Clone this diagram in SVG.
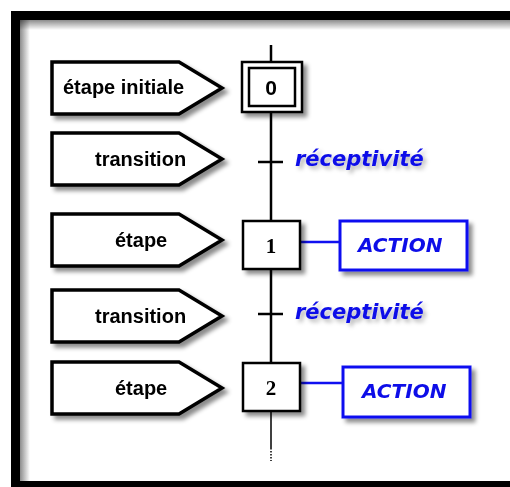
<svg xmlns="http://www.w3.org/2000/svg" width="510" height="487" viewBox="0 0 510 487">
<style>
.pent{fill:#fff;stroke:#000;stroke-width:3.5;stroke-linejoin:miter}
.lbl{font-family:"Liberation Sans",Arial,sans-serif;font-weight:bold;font-size:20px;fill:#000}
.step{fill:#fff;stroke:#000;stroke-width:2.5}
.num{font-family:"Liberation Serif","Times New Roman",serif;font-weight:bold;font-size:21px;fill:#000;text-anchor:middle}
.blue{font-family:"DejaVu Sans",Verdana,sans-serif;font-weight:bold;font-style:italic;fill:#1010e8}
.act{fill:#fff;stroke:#1010f0;stroke-width:3}
.link{stroke:#1010f0;stroke-width:2.5}
.axis{stroke:#000;stroke-width:2.5;fill:none}
</style>
<defs>
<filter id="sh" x="-10%" y="-10%" width="130%" height="140%">
<feDropShadow dx="4" dy="4" stdDeviation="2" flood-color="#000" flood-opacity="0.45"/>
</filter>
<filter id="tsh" x="-10%" y="-20%" width="130%" height="160%">
<feDropShadow dx="3" dy="3" stdDeviation="2" flood-color="#000" flood-opacity="0.3"/>
</filter>
<linearGradient id="gTop" x1="0" y1="0" x2="0" y2="1">
<stop offset="0" stop-color="#000" stop-opacity="0.45"/>
<stop offset="1" stop-color="#000" stop-opacity="0"/>
</linearGradient>
<linearGradient id="gLeft" x1="0" y1="0" x2="1" y2="0">
<stop offset="0" stop-color="#000" stop-opacity="0.45"/>
<stop offset="1" stop-color="#000" stop-opacity="0"/>
</linearGradient>
</defs>
<rect x="0" y="0" width="510" height="487" fill="#fff"/>
<g id="frame">
<rect x="20" y="20" width="490" height="10" fill="url(#gTop)"/>
<rect x="20" y="20" width="10" height="462" fill="url(#gLeft)"/>
<rect x="15.5" y="15.5" width="510" height="470" fill="none" stroke="#000" stroke-width="9"/>
</g>
<g id="connectors">
<line class="axis" x1="271" y1="45" x2="271" y2="62"/>
<line class="axis" x1="271" y1="112" x2="271" y2="221"/>
<line class="axis" x1="271" y1="269" x2="271" y2="363"/>
<line x1="271" y1="411" x2="271" y2="448" stroke="#000" stroke-width="1.5"/>
<line x1="271" y1="448" x2="271" y2="461" stroke="#000" stroke-width="1.5" stroke-dasharray="1.5 1.5"/>
<line class="axis" x1="258" y1="162" x2="283" y2="162"/>
<line class="axis" x1="258" y1="314" x2="283" y2="314"/>
<line class="link" x1="300" y1="242" x2="340" y2="242"/>
<line class="link" x1="300" y1="383" x2="343" y2="383"/>
</g>
<g id="label-etape-initiale" filter="url(#sh)">
<path class="pent" d="M52,62 H179 L222,88 L179,114 H52 Z"/>
<text class="lbl" x="63" y="94">étape initiale</text>
</g>
<g id="label-transition-1" filter="url(#sh)">
<path class="pent" d="M52,133 H179 L222,159 L179,185 H52 Z"/>
<text class="lbl" x="95" y="166">transition</text>
</g>
<g id="label-etape-1" filter="url(#sh)">
<path class="pent" d="M52,214 H179 L222,240 L179,266 H52 Z"/>
<text class="lbl" x="115" y="247">étape</text>
</g>
<g id="label-transition-2" filter="url(#sh)">
<path class="pent" d="M52,290 H179 L222,316 L179,342 H52 Z"/>
<text class="lbl" x="95" y="323">transition</text>
</g>
<g id="label-etape-2" filter="url(#sh)">
<path class="pent" d="M52,362 H179 L222,388 L179,414 H52 Z"/>
<text class="lbl" x="115" y="395">étape</text>
</g>
<g id="step-0" filter="url(#sh)">
<rect class="step" x="242" y="62" width="60" height="50"/>
<rect class="step" x="249" y="68" width="46" height="38"/>
<text class="num" x="271" y="95" style="font-family:'Liberation Sans',Arial,sans-serif">0</text>
</g>
<g id="step-1" filter="url(#sh)">
<rect class="step" x="243" y="221" width="57" height="48"/>
<text class="num" x="271" y="253">1</text>
</g>
<g id="step-2" filter="url(#sh)">
<rect class="step" x="243" y="363" width="57" height="48"/>
<text class="num" x="271" y="395">2</text>
</g>
<g id="receptivite-1" filter="url(#tsh)">
<text class="blue" x="295" y="166" font-size="21">réceptivité</text>
</g>
<g id="receptivite-2" filter="url(#tsh)">
<text class="blue" x="295" y="319" font-size="21">réceptivité</text>
</g>
<g id="action-1" filter="url(#sh)">
<rect class="act" x="340" y="221" width="127" height="49"/>
<text class="blue" x="358" y="252" font-size="20">ACTION</text>
</g>
<g id="action-2" filter="url(#sh)">
<rect class="act" x="343" y="367" width="127" height="50"/>
<text class="blue" x="362" y="398" font-size="20">ACTION</text>
</g>
</svg>
